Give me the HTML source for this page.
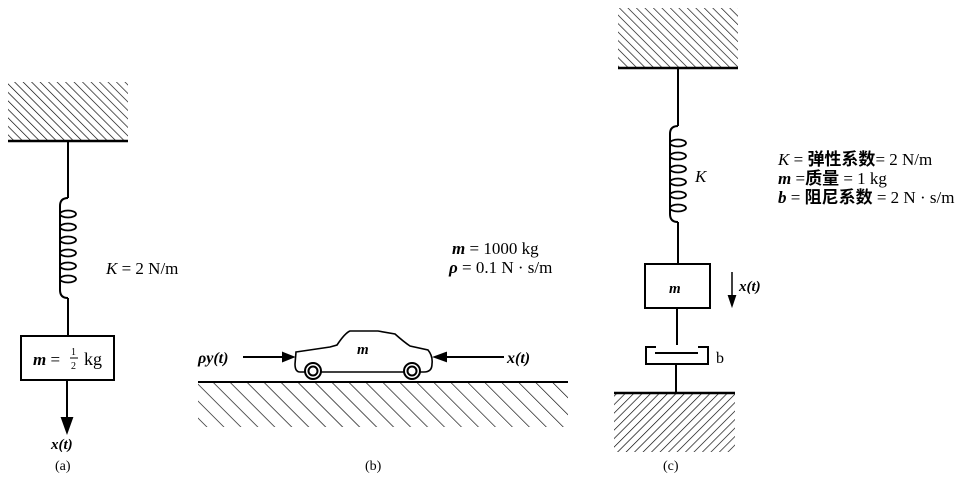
<!DOCTYPE html>
<html><head><meta charset="utf-8"><style>
html,body{margin:0;padding:0;background:#fff;width:972px;height:486px;overflow:hidden}
text{font-family:"Liberation Serif","Noto Serif CJK SC",serif;fill:#000}
.i{font-style:italic;font-weight:bold}
.c{font-family:"Liberation Serif","Noto Sans CJK SC",serif;font-weight:bold}
</style></head><body>
<svg width="972" height="486" viewBox="0 0 972 486" xmlns="http://www.w3.org/2000/svg">
<defs>
<pattern id="hb" patternUnits="userSpaceOnUse" width="6" height="6" patternTransform="rotate(-45)">
<line x1="0" y1="0" x2="0" y2="6" stroke="#000" stroke-width="1.3"/></pattern>
<pattern id="hf" patternUnits="userSpaceOnUse" width="6" height="6" patternTransform="rotate(45)">
<line x1="0" y1="0" x2="0" y2="6" stroke="#000" stroke-width="1.3"/></pattern>
<pattern id="hg" patternUnits="userSpaceOnUse" width="12" height="12" patternTransform="rotate(-45)">
<line x1="0" y1="0" x2="0" y2="12" stroke="#000" stroke-width="1.3"/></pattern>
</defs>
<g stroke="#000" fill="none" stroke-width="2">
<!-- (a) -->
<rect x="8" y="82" width="120" height="58" fill="url(#hb)" stroke="none"/>
<line x1="8" y1="141" x2="128" y2="141" stroke-width="2.5"/>
<line x1="68" y1="141" x2="68" y2="198"/>
<path d="M68 198 q-8 0 -8 8 v84 q0 8 8 8"/>
<g stroke-width="1.8">
<ellipse cx="68" cy="214" rx="8" ry="3.5"/><ellipse cx="68" cy="227" rx="8" ry="3.5"/>
<ellipse cx="68" cy="240" rx="8" ry="3.5"/><ellipse cx="68" cy="253" rx="8" ry="3.5"/>
<ellipse cx="68" cy="266" rx="8" ry="3.5"/><ellipse cx="68" cy="279" rx="8" ry="3.5"/>
</g>
<line x1="68" y1="298" x2="68" y2="336"/>
<rect x="21" y="336" width="93" height="44"/>
<line x1="67" y1="380" x2="67" y2="422"/>
<path d="M62 418 L67 432 L72 418 Z" fill="#000"/>
<!-- (b) -->
<line x1="198" y1="382" x2="568" y2="382"/>
<rect x="198" y="383" width="370" height="44" fill="url(#hg)" stroke="none"/>
<path d="M296 352 L330 347 L337 345 Q345 333 350 331 L378 331 L395 334 Q404 342 410 346 L428 350 Q433 356 432 364 Q432 372 424 372 L300 372 Q295 372 295 364 Z" stroke-width="1.6" fill="#fff"/>
<circle cx="313" cy="371" r="8" fill="#fff"/><circle cx="313" cy="371" r="4.5"/>
<circle cx="412" cy="371" r="8" fill="#fff"/><circle cx="412" cy="371" r="4.5"/>
<line x1="243" y1="357" x2="285" y2="357"/>
<path d="M283 353 L293 357 L283 361 Z" fill="#000"/>
<line x1="504" y1="357" x2="444" y2="357"/>
<path d="M446 353 L435 357 L446 361 Z" fill="#000"/>
<!-- (c) -->
<rect x="618" y="8" width="120" height="60" fill="url(#hb)" stroke="none"/>
<line x1="618" y1="68" x2="738" y2="68" stroke-width="2.5"/>
<line x1="678" y1="68" x2="678" y2="126"/>
<path d="M678 126 q-8 0 -8 8 v80 q0 8 8 8"/>
<g stroke-width="1.8">
<ellipse cx="678" cy="143" rx="8" ry="3.5"/><ellipse cx="678" cy="156" rx="8" ry="3.5"/>
<ellipse cx="678" cy="169" rx="8" ry="3.5"/><ellipse cx="678" cy="182" rx="8" ry="3.5"/>
<ellipse cx="678" cy="195" rx="8" ry="3.5"/><ellipse cx="678" cy="208" rx="8" ry="3.5"/>
</g>
<line x1="678" y1="222" x2="678" y2="263"/>
<rect x="645" y="264" width="65" height="44"/>
<line x1="677" y1="308" x2="677" y2="345"/>
<path d="M656 347 H646 V364 H708 V347 H698"/>
<line x1="655" y1="353" x2="698" y2="353"/>
<line x1="676" y1="364" x2="676" y2="393"/>
<line x1="614" y1="393" x2="735" y2="393" stroke-width="2.5"/>
<rect x="614" y="394" width="121" height="58" fill="url(#hf)" stroke="none"/>
<line x1="732" y1="272" x2="732" y2="298" stroke-width="1.5"/>
<path d="M729 296 L732 305 L735 296 Z" fill="#000"/>
</g>
<!-- labels -->
<text x="106" y="274" font-size="17"><tspan font-style="italic">K</tspan> = 2 N/m</text>
<text x="33" y="365" font-size="17"><tspan class="i">m</tspan> =</text>
<text x="71" y="355" font-size="10">1</text><line x1="70" y1="358" x2="78" y2="358" stroke="#000"/>
<text x="71" y="369" font-size="10">2</text>
<text x="84" y="365" font-size="18">kg</text>
<text x="51" y="449" font-size="15" class="i">x(t)</text>
<text x="55" y="470" font-size="14">(a)</text>
<text x="452" y="254" font-size="17"><tspan class="i">m</tspan> = 1000 kg</text>
<text x="449" y="273" font-size="17"><tspan class="i">ρ</tspan> = 0.1 N · s/m</text>
<text x="198" y="363" font-size="16" class="i">ρy(t)</text>
<text x="507" y="363" font-size="16" class="i">x(t)</text>
<text x="357" y="354" font-size="15" class="i">m</text>
<text x="365" y="470" font-size="14">(b)</text>
<text x="695" y="182" font-size="17" font-style="italic">K</text>
<text x="669" y="293" font-size="15" class="i">m</text>
<text x="739" y="291" font-size="15" class="i">x(t)</text>
<text x="716" y="363" font-size="16">b</text>
<text x="663" y="470" font-size="14">(c)</text>
<text x="778" y="165" font-size="17"><tspan font-style="italic">K</tspan> = <tspan class="c">弹性系数</tspan>= 2 N/m</text>
<text x="778" y="184" font-size="17"><tspan class="i">m</tspan> =<tspan class="c">质量</tspan> = 1 kg</text>
<text x="778" y="203" font-size="17"><tspan class="i">b</tspan> = <tspan class="c">阻尼系数</tspan> = 2 N · s/m</text>
</svg>
</body></html>
